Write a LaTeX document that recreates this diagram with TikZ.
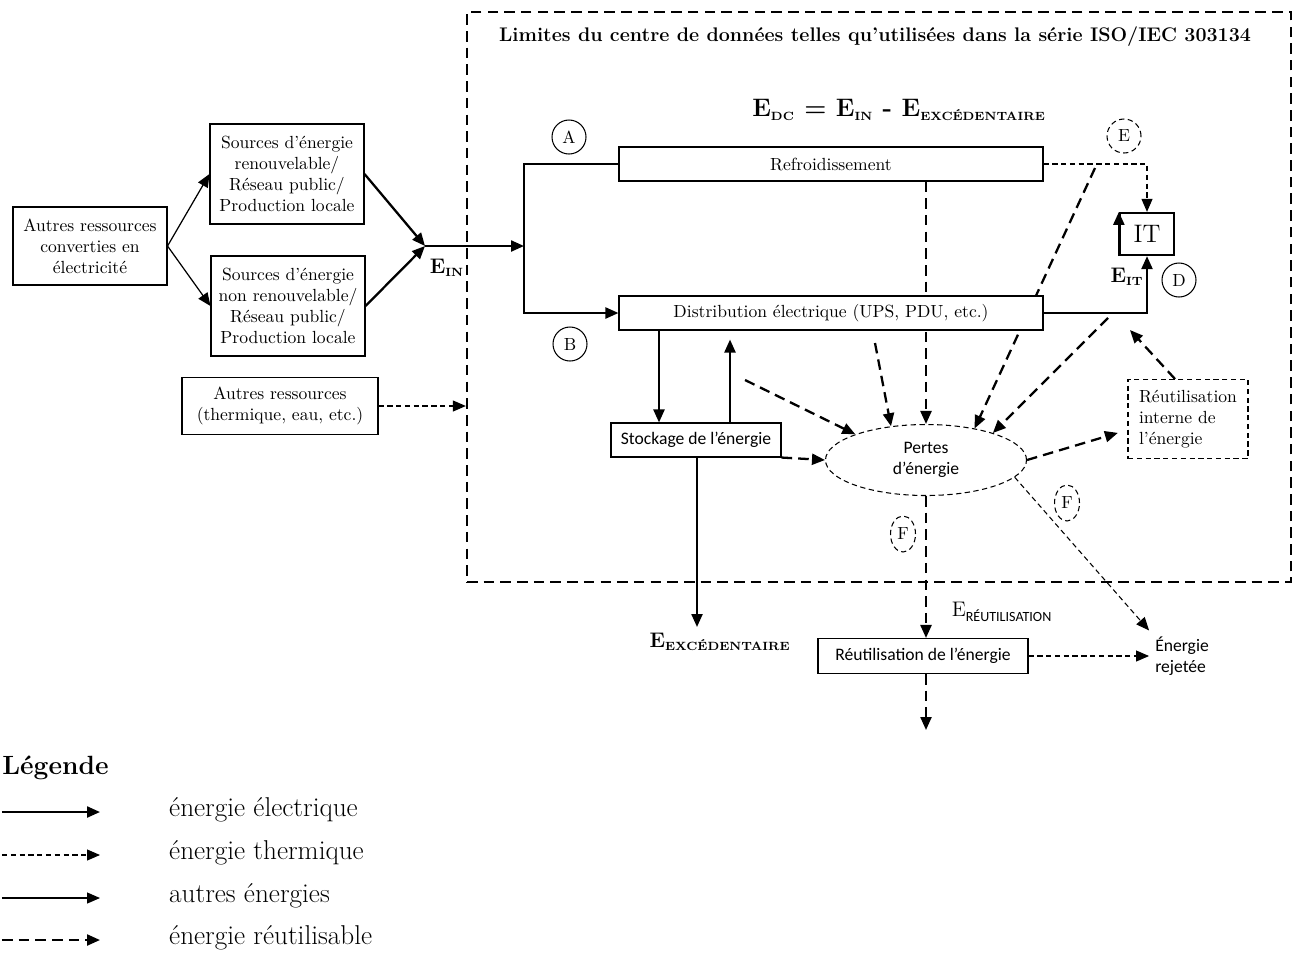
\documentclass[tikz,border=0pt]{standalone}
\usepackage{fontspec}
\newfontfamily\calfont{Carlito}
\usepackage{xcolor}
\usepackage{tikz}
\usetikzlibrary{positioning, shapes.geometric, arrows.meta, backgrounds}

\newcommand{\petitind}[1]{\textsubscript{\fontsize{6.8}{7}\selectfont #1}}

\begin{document}
\begin{tikzpicture}[
    >={Triangle[length=2.6mm, width=2.2mm]},
    box/.style={draw, fill=white, line width=0.6pt, align=center, inner sep=2pt},
    dbox/.style={draw, fill=white, line width=0.6pt, dash pattern=on 3pt off 2pt,
                 align=left, inner sep=3pt},
    lettre/.style={draw, circle, line width=0.6pt, minimum size=0.68cm, inner sep=0pt},
    dlettre/.style={draw, ellipse, line width=0.6pt, dash pattern=on 3pt off 2pt,
                    minimum width=0.5cm, minimum height=0.72cm, inner sep=0pt},
    elec/.style={line width=1.3pt, ->},
    therm/.style={line width=0.6pt, dash pattern=on 3pt off 2pt, ->},
    autre/.style={line width=0.7pt, ->},
    reutil/.style={line width=1.3pt, dash pattern=on 6pt off 3.5pt, ->},
    lbl/.style={font=\large\bfseries},
    leg/.style={font=\fontsize{15.5}{17}\selectfont, anchor=west},
  ]
  \useasboundingbox (0,0) rectangle (25.98,-19.04);

  % ============ Data centre boundary ============
  \node[draw, line width=1.3pt, dash pattern=on 6pt off 3.5pt,
        minimum width=16.48cm, minimum height=11.4cm] (dc) at (17.58,-5.94) {};
  \node[font=\bfseries\fontsize{11.2}{13}\selectfont] (titre) at (17.5,-0.74)
    {Limites du centre de données telles qu’utilisées dans la série ISO/IEC 303134};
  \node[font=\Large\bfseries] (edc) at (17.98,-2.2)
    {E\petitind{DC} = E\petitind{IN} - E\petitind{EXCÉDENTAIRE}};

  % ============ Sources (left) ============
  \node[box, minimum width=3.08cm, minimum height=1.56cm] (conv) at (1.80,-4.92)
    {Autres ressources\\converties en\\électricité};
  \node[box, minimum width=3.08cm, minimum height=2.0cm] (ren) at (5.74,-3.48)
    {Sources d’énergie\\renouvelable/\\Réseau public/\\Production locale};
  \node[box, minimum width=3.08cm, minimum height=2.0cm] (nonren) at (5.76,-6.12)
    {Sources d’énergie\\non renouvelable/\\Réseau public/\\Production locale};
  \node[box, minimum width=3.92cm, minimum height=1.14cm] (therm) at (5.60,-8.12)
    {Autres ressources\\(thermique, eau, etc.)};

  \coordinate (ein) at (8.5,-4.92);
  \coordinate (fork) at (10.48,-4.92);
  \node[lbl] (einlbl) at (8.94,-5.36) {E\petitind{IN}};

  % ============ Inside the data centre ============
  \node[box, minimum width=8.48cm, minimum height=0.68cm] (refroid) at (16.62,-3.28)
    {Refroidissement};
  \node[box, minimum width=8.48cm, minimum height=0.68cm] (distrib) at (16.62,-6.26)
    {Distribution électrique (UPS, PDU, etc.)};
  \node[box, line width=1.3pt, minimum width=1.08cm, minimum height=0.84cm,
        font=\Large] (it) at (22.94,-4.68) {IT};
  \node[lbl] (eitlbl) at (22.54,-5.54) {E\petitind{IT}};

  \node[lettre] (ca) at (11.38,-2.74) {A};
  \node[lettre] (cb) at (11.40,-6.88) {B};
  \node[lettre] (cd) at (23.58,-5.60) {D};
  \node[lettre, dash pattern=on 3pt off 2pt] (ce) at (22.48,-2.72) {E};
  \node[dlettre] (cf1) at (18.06,-10.68) {F};
  \node[dlettre] (cf2) at (21.34,-10.06) {F};

  \node[box, font=\calfont, minimum width=3.4cm, minimum height=0.68cm] (stock) at (13.92,-8.8)
    {Stockage de l’énergie};
  \node[draw, ellipse, fill=white, line width=0.6pt, dash pattern=on 3pt off 2pt,
        minimum width=4.02cm, minimum height=1.42cm, inner sep=0pt,
        align=center, font=\calfont] (pertes) at (18.52,-9.2) {Pertes\\d’énergie};
  \node[dbox, minimum width=2.4cm, minimum height=1.58cm] (interne) at (23.76,-8.38)
    {Réutilisation\\interne de\\l’énergie};

  % ============ Below the boundary ============
  \node[box, font=\calfont, minimum width=4.2cm, minimum height=0.7cm] (reut) at (18.46,-13.12)
    {Réutilisation de l’énergie};
  \node[align=left, font=\calfont] (rejet) at (23.64,-13.12) {Énergie\\rejetée};
  \node[lbl] (exclbl) at (14.4,-12.84) {E\petitind{EXCÉDENTAIRE}};
  \node[font=\large] (reutlbl) at (20.04,-12.24)
    {E\textsubscript{\calfont RÉUTILISATION}};

  \coordinate (exc) at (13.94,-12.54);
  \coordinate (puits) at (18.52,-14.6);
  \coordinate (diag1) at (21.9,-3.36);
  \coordinate (diag2) at (22.16,-6.36);
  \coordinate (diag3) at (17.5,-6.86);
  \coordinate (diag4) at (14.9,-7.6);
  \coordinate (versit) at (22.6,-6.6);

  % ======== ELECTRIC / OTHER ========
  \draw[autre] (conv.east) -- (ren.west);
  \draw[autre] (conv.east) -- (nonren.west);
  \draw[elec] (ren.east) -- (ein);
  \draw[elec] (nonren.east) -- (ein);
  \draw[elec] (ein) -- (fork);
  \draw[elec] (refroid.west) -| (fork) |- (distrib.west);
  \draw[elec] (distrib.east) -| (it.south);
  \draw[elec] (it.south west) -- (it.north west);

  \draw[elec] (13.18,0 |- distrib.south) -- (13.18,0 |- stock.north);
  \draw[elec, shorten >=0.18cm] (14.6,0 |- stock.north) -- (14.6,0 |- distrib.south);
  \draw[elec] (13.94,0 |- stock.south) -- (exc);

  % ======== THERMAL ========
  \draw[therm] (therm.east) -- (therm.east -| dc.west);
  \draw[therm] (refroid.east) -| (it.north);
  \draw[therm] (pertes.-11) -- (rejet.north west);
  \draw[therm] (reut.east) -- (rejet.west);

  % ======== REUSABLE ========
  \begin{pgfonlayer}{background}
    \draw[reutil] (pertes.north |- refroid.south) -- (pertes.north);
    \draw[reutil] (diag1) -- (pertes.33);
  \end{pgfonlayer}
  \draw[reutil] (diag2) -- (pertes.22);
  \draw[reutil] (diag3) -- (pertes.136);
  \draw[reutil] (diag4) -- (pertes.160);
  \draw[reutil] (stock.south east) -- (pertes.west);
  \draw[reutil, shorten >=0.2cm] (pertes.east) -- ([yshift=-0.22cm]interne.west);
  \draw[reutil] ([xshift=-0.26cm]interne.north) -- (versit);
  \draw[reutil] (pertes.south) -- (pertes.south |- reut.north);
  \draw[reutil] (pertes.south |- reut.south) -- (puits);

  % ============ Legend ============
  \node[font=\fontsize{15}{17}\selectfont\bfseries, anchor=west, inner sep=0pt] (legende)
    at (0.04,-15.36) {Légende};
  \coordinate (l1a) at (0.04,-16.24); \coordinate (l1b) at (2.0,-16.24);
  \coordinate (l2a) at (0.04,-17.1);  \coordinate (l2b) at (2.0,-17.1);
  \coordinate (l3a) at (0.04,-17.96); \coordinate (l3b) at (2.0,-17.96);
  \coordinate (l4a) at (0.04,-18.8);  \coordinate (l4b) at (2.0,-18.8);
  \draw[elec] (l1a) -- (l1b);
  \draw[therm] (l2a) -- (l2b);
  \draw[autre] (l3a) -- (l3b);
  \draw[reutil] (l4a) -- (l4b);
  \node[leg] (t1) at (3.26,-16.2) {énergie électrique};
  \node[leg] (t2) at (3.26,-17.06) {énergie thermique};
  \node[leg] (t3) at (3.26,-17.92) {autres énergies};
  \node[leg] (t4) at (3.26,-18.76) {énergie réutilisable};

\end{tikzpicture}
\end{document}
